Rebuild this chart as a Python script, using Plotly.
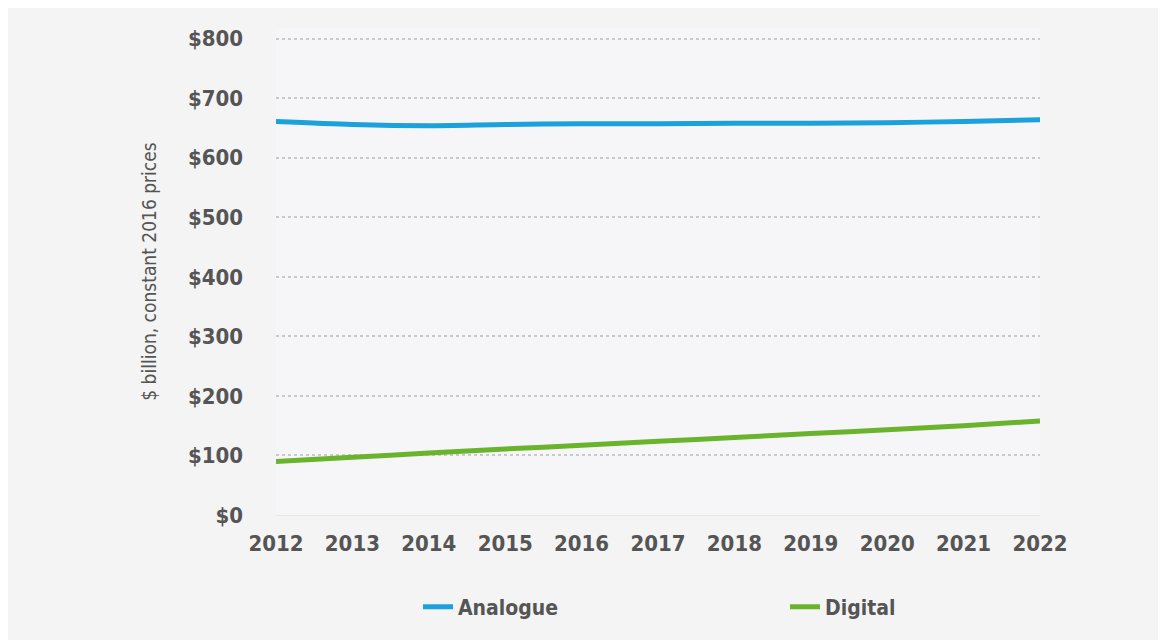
import plotly.graph_objects as go

years = [2012, 2013, 2014, 2015, 2016, 2017, 2018, 2019, 2020, 2021, 2022]
analogue = [661, 656, 654, 656, 657, 657, 658, 658, 659, 661, 664]
digital = [90, 97, 104, 111, 117, 124, 130, 137, 143, 150, 158]
y_ticks = [0, 100, 200, 300, 400, 500, 600, 700, 800]
y_labels = ["$" + str(v) for v in y_ticks]

W, H = 1166, 640
OFF = 8  # page body margin
L, T = 276 - OFF, 28 - OFF
R = W - (1040 - OFF)
B = H - (515 - OFF)
pw, ph = W - L - R, H - T - B

FONT = "DejaVu Sans Condensed, DejaVu Sans, sans-serif"
TXT = "#555555"

fig = go.Figure()
fig.add_trace(go.Scatter(x=years, y=analogue, name="Analogue", mode="lines",
                         line=dict(color="#1ba1db", width=5, shape="spline", smoothing=0.8)))
fig.add_trace(go.Scatter(x=years, y=digital, name="Digital", mode="lines",
                         line=dict(color="#6ab42d", width=5, shape="spline", smoothing=0.8)))

fig.update_layout(
    width=W, height=H,
    margin=dict(l=L, r=R, t=T, b=B),
    paper_bgcolor="#f4f4f4",
    plot_bgcolor="#f6f6f8",
    font=dict(family=FONT, color=TXT),
    showlegend=True,
    legend=dict(orientation="h", x=(418 - 276) / pw, xanchor="left",
                y=(515 - 607) / ph, yanchor="middle",
                entrywidth=322, entrywidthmode="pixels",
                font=dict(family=FONT, size=21, color=TXT, weight="bold"),
                bgcolor="rgba(0,0,0,0)"),
    xaxis=dict(range=[2012, 2022], tickvals=years, ticktext=[str(y) for y in years],
               showgrid=False, zeroline=False, showline=True, linecolor="#e6e6e6", linewidth=1,
               ticks="", ticklabelstandoff=9,
               tickfont=dict(family=FONT, size=22, color=TXT, weight="bold")),
    yaxis=dict(range=[0, 818], tickvals=y_ticks, ticktext=y_labels,
               showgrid=True, gridcolor="#c9c9c9", griddash="dot", gridwidth=2,
               zeroline=False, showline=False, ticks="", ticklabelstandoff=32,
               tickfont=dict(family=FONT, size=22, color=TXT, weight="bold"),
               title=dict(text="$ billion, constant 2016 prices", standoff=26,
                          font=dict(family=FONT, size=19, color=TXT))),
)

fig.write_html("out.html")
